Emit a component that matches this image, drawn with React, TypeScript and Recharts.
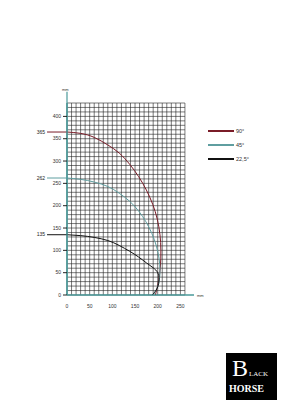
import { LineChart, Line, XAxis, YAxis, ReferenceLine } from "recharts";

// curve points (x = mm sideways, y = mm height)
const curve90 = [
  { x: 0, y: 365 }, { x: 30, y: 362 }, { x: 60, y: 353 }, { x: 90, y: 336 },
  { x: 115, y: 318 }, { x: 138, y: 293 }, { x: 158, y: 265 }, { x: 175, y: 235 },
  { x: 189, y: 203 }, { x: 199, y: 170 }, { x: 205, y: 135 }, { x: 207, y: 100 },
  { x: 206, y: 65 }, { x: 202, y: 32 }, { x: 195, y: 0 },
];
const curve45 = [
  { x: 0, y: 262 }, { x: 30, y: 259 }, { x: 60, y: 253 }, { x: 90, y: 243 },
  { x: 115, y: 228 }, { x: 138, y: 210 }, { x: 158, y: 188 }, { x: 174, y: 164 },
  { x: 187, y: 138 }, { x: 197, y: 110 }, { x: 203, y: 82 }, { x: 205, y: 55 },
  { x: 203, y: 30 }, { x: 197, y: 12 }, { x: 190, y: 0 },
];
const curve22 = [
  { x: 0, y: 135 }, { x: 30, y: 133 }, { x: 60, y: 129 }, { x: 90, y: 122 },
  { x: 115, y: 111 }, { x: 138, y: 98 }, { x: 158, y: 85 }, { x: 175, y: 72 },
  { x: 190, y: 61 }, { x: 200, y: 50 }, { x: 203, y: 35 }, { x: 200, y: 18 },
  { x: 193, y: 6 }, { x: 188, y: 0 },
];

const series = [
  { name: "90°", color: "#7a1c28", data: curve90, start: 365 },
  { name: "45°", color: "#5f9ea0", data: curve45, start: 262 },
  { name: "22,5°", color: "#111111", data: curve22, start: 135 },
];

const xTicks = [0, 50, 100, 150, 200, 250];
const yTicks = [0, 50, 100, 150, 200, 250, 300, 350, 400];
const gridX = Array.from({ length: 27 }, (_, i) => i * 10);
const gridY = Array.from({ length: 44 }, (_, i) => i * 10);

const AXIS = "#4a9a9a";
const FONT = "Liberation Sans, Arial, sans-serif";

export default function App() {
  return (
    <div style={{ position: "absolute", left: 0, top: 0, width: 283, height: 400, background: "#fff", fontFamily: FONT }}>
      <LineChart width={283} height={400} margin={{ top: 103, right: 89, bottom: 75, left: 0 }}>
        <XAxis
          type="number"
          dataKey="x"
          domain={[0, 280]}
          ticks={xTicks}
          allowDataOverflow
          height={30}
          axisLine={{ stroke: AXIS, strokeWidth: 1.2 }}
          tickLine={false}
          tick={{ fontSize: 5, fill: "#333", fontFamily: FONT }}
          tickMargin={3}
        />
        <YAxis
          type="number"
          domain={[0, 430]}
          ticks={yTicks}
          width={67}
          axisLine={{ stroke: AXIS, strokeWidth: 1.2 }}
          tickLine={{ stroke: "#222" }}
          tickSize={4}
          tick={{ fontSize: 5, fill: "#333", fontFamily: FONT }}
        />
        {gridX.map((v) => (
          <ReferenceLine key={"gx" + v} segment={[{ x: v, y: 0 }, { x: v, y: 430 }]} stroke="#222" strokeWidth={0.6} />
        ))}
        {gridY.map((v) => (
          <ReferenceLine key={"gy" + v} segment={[{ x: 0, y: v }, { x: 260, y: v }]} stroke="#222" strokeWidth={0.6} />
        ))}
        <ReferenceLine segment={[{ x: 0, y: 0 }, { x: 0, y: 455 }]} stroke={AXIS} strokeWidth={1.2} ifOverflow="visible" />
        <ReferenceLine segment={[{ x: 0, y: 0 }, { x: 280, y: 0 }]} stroke={AXIS} strokeWidth={1.2} ifOverflow="visible" />
        {series.map((s) => (
          <ReferenceLine
            key={"st" + s.name}
            segment={[{ x: -44, y: s.start }, { x: 0, y: s.start }]}
            stroke={s.color}
            strokeWidth={1}
            ifOverflow="visible"
            label={{ value: String(s.start), position: "left", offset: 2, fontSize: 5, fill: "#222", fontFamily: FONT }}
          />
        ))}
        {series.map((s) => (
          <Line
            key={s.name}
            data={s.data}
            dataKey="y"
            type="natural"
            stroke={s.color}
            strokeWidth={1}
            dot={false}
            isAnimationActive={false}
          />
        ))}
      </LineChart>

      <div style={{ position: "absolute", left: 62, top: 87, fontSize: 4, color: "#333" }}>mm</div>
      <div style={{ position: "absolute", left: 197, top: 293, fontSize: 4, color: "#333" }}>mm</div>

      <div style={{ position: "absolute", left: 208, top: 124 }}>
        {series.map((s) => (
          <div key={"lg" + s.name} style={{ display: "flex", alignItems: "center", height: 14 }}>
            <div style={{ width: 26, height: 1.2, background: s.color }} />
            <span style={{ fontSize: 5.5, color: "#333", marginLeft: 2 }}>{s.name}</span>
          </div>
        ))}
      </div>

      <div
        style={{
          position: "absolute", left: 226, top: 353, width: 51, height: 47, background: "#000",
          color: "#fff", fontFamily: "Liberation Serif, serif", overflow: "hidden",
        }}
      >
        <div style={{ position: "absolute", left: 6, top: 3, fontSize: 24, lineHeight: "24px" }}>B</div>
        <div style={{ position: "absolute", left: 23, top: 17, fontSize: 7, lineHeight: "8px" }}>LACK</div>
        <div style={{ position: "absolute", left: 3, top: 30, fontSize: 10, lineHeight: "12px", fontWeight: 700 }}>HORSE</div>
      </div>
    </div>
  );
}
